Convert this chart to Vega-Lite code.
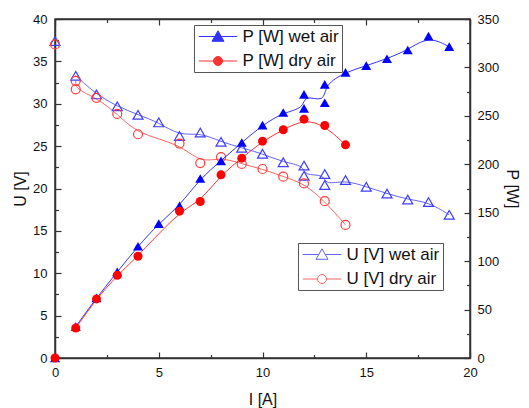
{
  "$schema": "https://vega.github.io/schema/vega-lite/v6.json",
  "autosize": "none",
  "width": 415,
  "height": 339,
  "padding": {"left": 55, "top": 19, "right": 59, "bottom": 50},
  "background": "white",
  "config": {
    "font": "Liberation Sans",
    "view": {"stroke": "#333", "strokeWidth": 1.5},
    "axis": {
      "grid": false,
      "domainColor": "#333",
      "domainWidth": 1.5,
      "tickColor": "#333",
      "tickWidth": 1.2,
      "labelFont": "Liberation Sans",
      "labelFontSize": 13,
      "labelColor": "#111",
      "titleFont": "Liberation Sans",
      "titleFontSize": 16,
      "titleFontWeight": "normal",
      "titleColor": "#111"
    },
    "legend": {
      "title": null,
      "orient": "none",
      "fillColor": "white",
      "strokeColor": "#555",
      "padding": 3,
      "rowPadding": 6.5,
      "labelFont": "Liberation Sans",
      "labelFontSize": 17,
      "labelColor": "#111",
      "symbolSize": 144,
      "symbolStrokeWidth": 1,
      "symbolOffset": 12.5,
      "labelOffset": 16
    }
  },
  "data": {
    "values": [
      {"q": "U", "s": "U [V] wet air", "I": 0, "v": 37.4},
      {"q": "U", "s": "U [V] wet air", "I": 1, "v": 33.3},
      {"q": "U", "s": "U [V] wet air", "I": 2, "v": 31.1},
      {"q": "U", "s": "U [V] wet air", "I": 3, "v": 29.7},
      {"q": "U", "s": "U [V] wet air", "I": 4, "v": 28.7},
      {"q": "U", "s": "U [V] wet air", "I": 5, "v": 27.8},
      {"q": "U", "s": "U [V] wet air", "I": 6, "v": 26.2},
      {"q": "U", "s": "U [V] wet air", "I": 7, "v": 26.6},
      {"q": "U", "s": "U [V] wet air", "I": 8, "v": 25.5},
      {"q": "U", "s": "U [V] wet air", "I": 9, "v": 24.8},
      {"q": "U", "s": "U [V] wet air", "I": 10, "v": 24.1},
      {"q": "U", "s": "U [V] wet air", "I": 11, "v": 23.1},
      {"q": "U", "s": "U [V] wet air", "I": 12, "v": 22.7},
      {"q": "U", "s": "U [V] wet air", "I": 12, "v": 21.5},
      {"q": "U", "s": "U [V] wet air", "I": 13, "v": 21.7},
      {"q": "U", "s": "U [V] wet air", "I": 13, "v": 20.4},
      {"q": "U", "s": "U [V] wet air", "I": 14, "v": 21.0},
      {"q": "U", "s": "U [V] wet air", "I": 15, "v": 20.2},
      {"q": "U", "s": "U [V] wet air", "I": 16, "v": 19.4},
      {"q": "U", "s": "U [V] wet air", "I": 17, "v": 18.7},
      {"q": "U", "s": "U [V] wet air", "I": 18, "v": 18.4},
      {"q": "U", "s": "U [V] wet air", "I": 19, "v": 16.9},
      {"q": "U", "s": "U [V] dry air", "I": 0, "v": 37.0},
      {"q": "U", "s": "U [V] dry air", "I": 1, "v": 32.7},
      {"q": "U", "s": "U [V] dry air", "I": 1, "v": 31.7},
      {"q": "U", "s": "U [V] dry air", "I": 2, "v": 30.7},
      {"q": "U", "s": "U [V] dry air", "I": 3, "v": 28.8},
      {"q": "U", "s": "U [V] dry air", "I": 4, "v": 26.4},
      {"q": "U", "s": "U [V] dry air", "I": 6, "v": 25.3},
      {"q": "U", "s": "U [V] dry air", "I": 7, "v": 23.0},
      {"q": "U", "s": "U [V] dry air", "I": 8, "v": 23.7},
      {"q": "U", "s": "U [V] dry air", "I": 9, "v": 22.9},
      {"q": "U", "s": "U [V] dry air", "I": 10, "v": 22.3},
      {"q": "U", "s": "U [V] dry air", "I": 11, "v": 21.4},
      {"q": "U", "s": "U [V] dry air", "I": 12, "v": 20.6},
      {"q": "U", "s": "U [V] dry air", "I": 13, "v": 18.5},
      {"q": "U", "s": "U [V] dry air", "I": 14, "v": 15.7},
      {"q": "P", "s": "P [W] wet air", "I": 0, "v": 0},
      {"q": "P", "s": "P [W] wet air", "I": 1, "v": 32.5},
      {"q": "P", "s": "P [W] wet air", "I": 2, "v": 62.0},
      {"q": "P", "s": "P [W] wet air", "I": 3, "v": 88.9},
      {"q": "P", "s": "P [W] wet air", "I": 4, "v": 115.4},
      {"q": "P", "s": "P [W] wet air", "I": 5, "v": 138.8},
      {"q": "P", "s": "P [W] wet air", "I": 6, "v": 157.1},
      {"q": "P", "s": "P [W] wet air", "I": 7, "v": 185.3},
      {"q": "P", "s": "P [W] wet air", "I": 8, "v": 203.6},
      {"q": "P", "s": "P [W] wet air", "I": 9, "v": 222.5},
      {"q": "P", "s": "P [W] wet air", "I": 10, "v": 240.4},
      {"q": "P", "s": "P [W] wet air", "I": 11, "v": 253.5},
      {"q": "P", "s": "P [W] wet air", "I": 12, "v": 257.7},
      {"q": "P", "s": "P [W] wet air", "I": 12, "v": 272.1},
      {"q": "P", "s": "P [W] wet air", "I": 13, "v": 263.5},
      {"q": "P", "s": "P [W] wet air", "I": 13, "v": 282.5},
      {"q": "P", "s": "P [W] wet air", "I": 14, "v": 294.9},
      {"q": "P", "s": "P [W] wet air", "I": 15, "v": 301.8},
      {"q": "P", "s": "P [W] wet air", "I": 16, "v": 309.0},
      {"q": "P", "s": "P [W] wet air", "I": 17, "v": 318.0},
      {"q": "P", "s": "P [W] wet air", "I": 18, "v": 332.4},
      {"q": "P", "s": "P [W] wet air", "I": 19, "v": 321.4},
      {"q": "P", "s": "P [W] dry air", "I": 0, "v": 0},
      {"q": "P", "s": "P [W] dry air", "I": 1, "v": 31.0},
      {"q": "P", "s": "P [W] dry air", "I": 2, "v": 61.0},
      {"q": "P", "s": "P [W] dry air", "I": 3, "v": 85.4},
      {"q": "P", "s": "P [W] dry air", "I": 4, "v": 105.1},
      {"q": "P", "s": "P [W] dry air", "I": 6, "v": 151.6},
      {"q": "P", "s": "P [W] dry air", "I": 7, "v": 161.6},
      {"q": "P", "s": "P [W] dry air", "I": 8, "v": 189.1},
      {"q": "P", "s": "P [W] dry air", "I": 9, "v": 206.3},
      {"q": "P", "s": "P [W] dry air", "I": 10, "v": 223.9},
      {"q": "P", "s": "P [W] dry air", "I": 11, "v": 235.6},
      {"q": "P", "s": "P [W] dry air", "I": 12, "v": 246.6},
      {"q": "P", "s": "P [W] dry air", "I": 13, "v": 240.1},
      {"q": "P", "s": "P [W] dry air", "I": 14, "v": 220.1}
    ]
  },
  "layer": [
    {
      "transform": [{"filter": "datum.q === 'U'"}],
      "encoding": {
        "x": {
          "field": "I",
          "type": "quantitative",
          "scale": {"domain": [0, 20], "nice": false},
          "axis": {
            "orient": "bottom",
            "title": "I [A]",
            "titlePadding": 10,
            "values": [0, 2.5, 5, 7.5, 10, 12.5, 15, 17.5, 20],
            "labelExpr": "datum.value % 5 === 0 ? datum.label : ''",
            "tickSize": {"condition": {"test": "datum.value % 5 === 0", "value": -6}, "value": -3.5},
            "labelPadding": 14,
            "labelFlush": false,
            "labelOverlap": false
          }
        },
        "y": {
          "field": "v",
          "type": "quantitative",
          "scale": {"domain": [0, 40], "nice": false},
          "axis": {
            "orient": "left",
            "title": "U [V]",
            "titlePadding": 4,
            "values": [0, 2.5, 5, 7.5, 10, 12.5, 15, 17.5, 20, 22.5, 25, 27.5, 30, 32.5, 35, 37.5, 40],
            "labelExpr": "datum.value % 5 === 0 ? datum.label : ''",
            "tickSize": {"condition": {"test": "datum.value % 5 === 0", "value": -6}, "value": -3.5},
            "labelPadding": 14,
            "labelFlush": false,
            "labelOverlap": false
          }
        },
        "stroke": {
          "field": "s",
          "type": "nominal",
          "scale": {"domain": ["U [V] wet air", "U [V] dry air"], "range": ["#3d3dff", "#ff3d3d"]},
          "legend": {"legendX": 243, "legendY": 224}
        }
      },
      "layer": [
        {
          "transform": [{"filter": "datum.I > 0"}],
          "mark": {"type": "line", "interpolate": "basis", "strokeWidth": 1, "opacity": 0.8},
          "encoding": {"order": {"value": null}}
        },
        {
          "transform": [{"filter": "false"}],
          "mark": {"type": "point", "filled": false, "strokeWidth": 1, "opacity": 1},
          "encoding": {
            "shape": {
              "field": "s",
              "type": "nominal",
              "scale": {
                "domain": ["U [V] wet air", "U [V] dry air"],
                "range": [
                  "M-3.2,0H-0.54M0.54,0H3.2M0,-0.95L1,0.8H-1Z",
                  "M-3.2,0H-0.75M0.75,0H3.2M0.75,0A0.75,0.75 0 1 1 -0.75,0A0.75,0.75 0 1 1 0.75,0Z"
                ]
              },
              "legend": {"legendX": 243, "legendY": 224}
            }
          }
        },
        {
          "transform": [{"filter": "datum.s === 'U [V] wet air'"}],
          "mark": {"type": "point", "shape": "triangle-up", "filled": false, "size": 100, "strokeWidth": 1.2, "opacity": 1}
        },
        {
          "transform": [{"filter": "datum.s === 'U [V] dry air'"}],
          "mark": {"type": "point", "shape": "circle", "filled": false, "size": 81, "strokeWidth": 1.2, "opacity": 1}
        }
      ]
    },
    {
      "transform": [{"filter": "datum.q === 'P'"}],
      "encoding": {
        "x": {
          "field": "I",
          "type": "quantitative",
          "scale": {"domain": [0, 20], "nice": false},
          "axis": {
            "orient": "top",
            "title": null,
            "labels": false,
            "values": [0, 2.5, 5, 7.5, 10, 12.5, 15, 17.5, 20],
            "tickSize": {"condition": {"test": "datum.value % 5 === 0", "value": -6}, "value": -3.5}
          }
        },
        "y": {
          "field": "v",
          "type": "quantitative",
          "scale": {"domain": [0, 350], "nice": false},
          "axis": {
            "orient": "right",
            "title": "P [W]",
            "titlePadding": 5,
            "values": [0, 25, 50, 75, 100, 125, 150, 175, 200, 225, 250, 275, 300, 325, 350],
            "labelExpr": "datum.value % 50 === 0 ? datum.label : ''",
            "tickSize": {"condition": {"test": "datum.value % 50 === 0", "value": -6}, "value": -3.5},
            "labelPadding": 13,
            "labelFlush": false,
            "labelOverlap": false
          }
        },
        "color": {
          "field": "s",
          "type": "nominal",
          "scale": {"domain": ["P [W] wet air", "P [W] dry air"], "range": ["#0000ff", "#ff0000"]},
          "legend": {"legendX": 139, "legendY": 6}
        }
      },
      "layer": [
        {
          "transform": [{"filter": "datum.I > 0"}],
          "mark": {"type": "line", "interpolate": "basis", "strokeWidth": 1, "opacity": 0.8},
          "encoding": {"order": {"value": null}}
        },
        {
          "transform": [{"filter": "false"}],
          "mark": {"type": "point", "filled": true, "strokeWidth": 1, "opacity": 1},
          "encoding": {
            "shape": {
              "field": "s",
              "type": "nominal",
              "scale": {
                "domain": ["P [W] wet air", "P [W] dry air"],
                "range": [
                  "M-3.2,0H3.2M0,-0.95L1,0.8H-1Z",
                  "M-3.2,0H3.2M0.75,0A0.75,0.75 0 1 1 -0.75,0A0.75,0.75 0 1 1 0.75,0Z"
                ]
              },
              "legend": {"legendX": 139, "legendY": 6}
            }
          }
        },
        {
          "transform": [{"filter": "datum.s === 'P [W] wet air'"}],
          "mark": {"type": "point", "shape": "triangle-up", "filled": true, "size": 100, "opacity": 1}
        },
        {
          "transform": [{"filter": "datum.s === 'P [W] dry air'"}],
          "mark": {"type": "point", "shape": "circle", "filled": true, "size": 81, "opacity": 1}
        }
      ]
    }
  ],
  "resolve": {
    "scale": {"y": "independent", "shape": "independent", "color": "independent", "stroke": "independent"},
    "legend": {"shape": "independent", "color": "independent", "stroke": "independent"},
    "axis": {"x": "independent"}
  }
}
